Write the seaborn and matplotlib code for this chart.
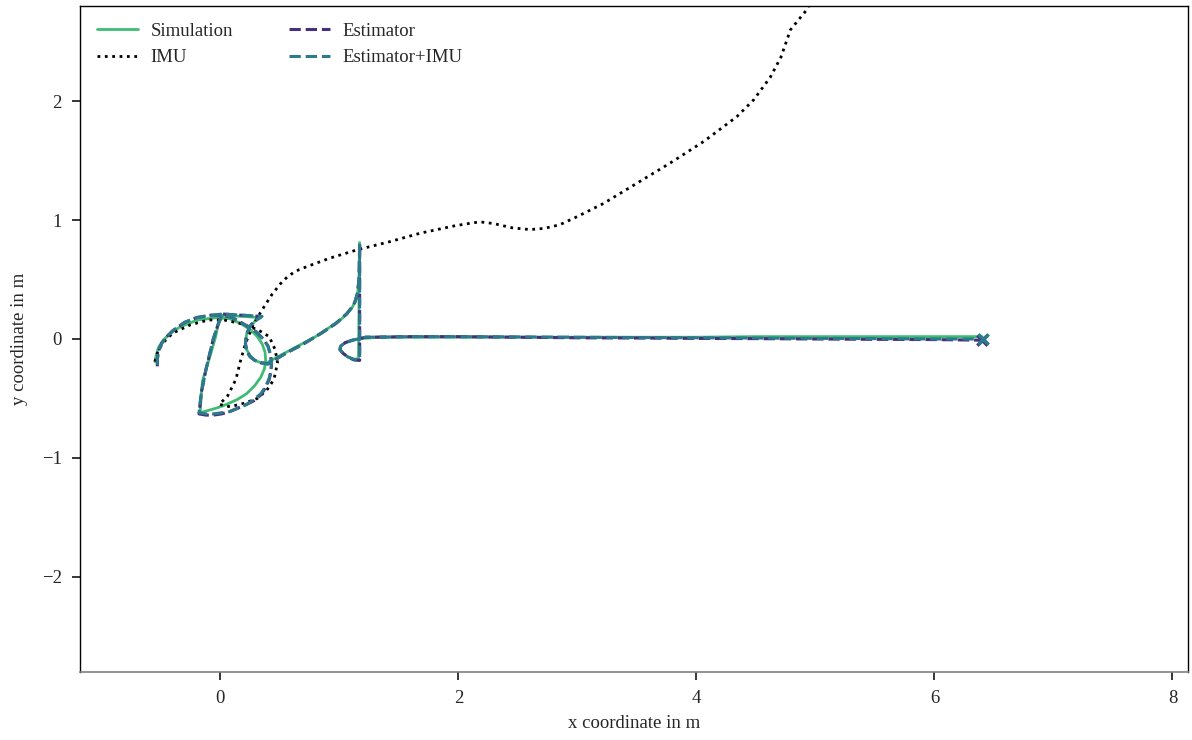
import numpy as np
import pandas as pd
import seaborn as sns
import matplotlib
matplotlib.use("Agg")
import matplotlib.pyplot as plt

# ==========================================
# DATA (metres)
# ==========================================
SIM_X = [-0.55, -0.54, -0.52, -0.48, -0.44, -0.39, -0.34, -0.27, -0.19, -0.11, -0.03,
         0.08, 0.17, 0.25, 0.31, 0.35, 0.375, 0.38, 0.37, 0.34, 0.29, 0.22, 0.14, 0.05, -0.03,
         -0.10, -0.17,
         -0.16, -0.15, -0.11, -0.08, -0.04, -0.02, 0.02,
         0.34, 0.29, 0.25, 0.22, 0.21, 0.22, 0.25, 0.29, 0.34, 0.39,
         0.50, 0.65, 0.80, 0.92, 1.02, 1.07, 1.11, 1.14, 1.155, 1.165, 1.17,
         1.16, 1.12, 1.07, 1.03, 1.005, 1.01, 1.05, 1.11, 1.20, 1.30,
         1.50, 2.00, 2.50, 3.00, 3.50, 4.00, 4.50, 5.00, 5.50, 6.00, 6.40]
SIM_Y = [-0.19, -0.14, -0.07, -0.01, 0.03, 0.07, 0.10, 0.13, 0.16, 0.17, 0.18,
         0.17, 0.13, 0.08, 0.02, -0.04, -0.11, -0.18, -0.25, -0.32, -0.39, -0.46, -0.51, -0.55,
         -0.58, -0.60, -0.62,
         -0.45, -0.35, -0.22, -0.12, 0.02, 0.12, 0.20,
         0.18, 0.15, 0.10, 0.04, -0.03, -0.09, -0.14, -0.18, -0.20, -0.20,
         -0.14, -0.06, 0.02, 0.10, 0.17, 0.22, 0.27, 0.33, 0.40, 0.50, 0.81,
         -0.18, -0.175, -0.15, -0.12, -0.09, -0.06, -0.03, -0.01, 0.005, 0.012,
         0.015, 0.015, 0.015, 0.015, 0.015, 0.015, 0.02, 0.02, 0.02, 0.02, 0.02]

IMU_X = [-0.55, -0.53, -0.49, -0.40, -0.25, -0.10, 0.03, 0.17, 0.31, 0.41, 0.46, 0.48, 0.45,
         0.39, 0.31, 0.20, 0.08, -0.01, 0.06, 0.13, 0.17, 0.21, 0.28, 0.36, 0.43, 0.50, 0.56,
         0.63, 0.73, 0.92, 1.15, 1.43, 1.68, 1.96, 2.08, 2.18, 2.30, 2.45, 2.60, 2.72, 2.85,
         3.00, 3.22, 3.50, 3.78, 4.06, 4.34, 4.48, 4.62, 4.71, 4.79, 4.92, 5.00]
IMU_Y = [-0.19, -0.12, -0.04, 0.05, 0.12, 0.16, 0.16, 0.13, 0.08, 0.02, -0.09, -0.20, -0.34,
         -0.43, -0.50, -0.54, -0.57, -0.55, -0.48, -0.34, -0.18, -0.04, 0.13, 0.26, 0.37, 0.46,
         0.52, 0.57, 0.61, 0.68, 0.75, 0.82, 0.89, 0.95, 0.97, 0.985, 0.97, 0.935, 0.92, 0.93,
         0.96, 1.03, 1.14, 1.31, 1.48, 1.66, 1.87, 2.01, 2.20, 2.37, 2.60, 2.76, 2.90]

EST_X = [-0.53, -0.53, -0.52, -0.49, -0.45, -0.40, -0.30, -0.20, -0.08, 0.02,
         0.10, 0.17, 0.24, 0.30, 0.36, 0.40, 0.42, 0.43, 0.425, 0.41, 0.38, 0.34, 0.28, 0.22,
         0.15, 0.08, 0.01, -0.06, -0.12, -0.18,
         -0.16, -0.12, -0.06, -0.01, 0.02,
         0.34, 0.29, 0.25, 0.22, 0.21, 0.22, 0.25, 0.29, 0.34, 0.40,
         0.55, 0.70, 0.85, 0.97, 1.06, 1.10, 1.13, 1.15, 1.165, 1.17,
         1.17, 1.12, 1.07, 1.03, 1.005, 1.01, 1.05, 1.11, 1.22,
         1.60, 2.00, 2.50, 3.00, 3.50, 4.00, 4.50, 5.00, 5.50, 6.00, 6.40]
EST_Y = [-0.23, -0.17, -0.10, -0.03, 0.02, 0.07, 0.14, 0.18, 0.20, 0.20,
         0.18, 0.14, 0.10, 0.06, 0.00, -0.06, -0.13, -0.20, -0.27, -0.34, -0.41, -0.47, -0.52,
         -0.55, -0.58, -0.61, -0.63, -0.64, -0.64, -0.63,
         -0.45, -0.25, 0.00, 0.15, 0.21,
         0.19, 0.16, 0.11, 0.04, -0.04, -0.10, -0.15, -0.18, -0.20, -0.21,
         -0.12, -0.04, 0.05, 0.13, 0.21, 0.26, 0.31, 0.38, 0.50, 0.81,
         -0.18, -0.175, -0.15, -0.12, -0.09, -0.06, -0.03, -0.01, 0.015,
         0.02, 0.02, 0.015, 0.01, 0.008, 0.005, 0.003, 0.0, -0.003, -0.005, -0.01]

ESTIMU_X = [-0.53, -0.53, -0.52, -0.49, -0.45, -0.40, -0.30, -0.20, -0.08, 0.02,
            0.10, 0.17, 0.24, 0.30, 0.36, 0.40, 0.42, 0.43, 0.425, 0.41, 0.38, 0.34, 0.28, 0.22,
            0.15, 0.08, 0.01, -0.06, -0.12, -0.18,
            -0.16, -0.12, -0.06, -0.01, 0.02,
            0.35, 0.30, 0.25, 0.22, 0.21, 0.22, 0.25, 0.29, 0.34, 0.40,
            0.55, 0.70, 0.85, 0.97, 1.06, 1.10, 1.13, 1.15, 1.165, 1.17,
            1.17, 1.12, 1.07, 1.03, 1.005, 1.01, 1.05, 1.11, 1.22,
            1.60, 2.00, 2.50, 3.00, 3.50, 4.00, 4.50, 5.00, 5.50, 6.00, 6.41]
ESTIMU_Y = [-0.22, -0.17, -0.10, -0.03, 0.02, 0.07, 0.14, 0.18, 0.20, 0.21,
            0.18, 0.14, 0.10, 0.06, 0.00, -0.06, -0.13, -0.20, -0.27, -0.33, -0.40, -0.46, -0.51,
            -0.55, -0.58, -0.61, -0.62, -0.63, -0.63, -0.62,
            -0.45, -0.25, 0.00, 0.15, 0.21,
            0.19, 0.16, 0.11, 0.04, -0.04, -0.10, -0.15, -0.18, -0.20, -0.21,
            -0.12, -0.04, 0.05, 0.13, 0.21, 0.26, 0.31, 0.38, 0.50, 0.80,
            -0.17, -0.17, -0.15, -0.12, -0.09, -0.06, -0.03, -0.01, 0.015,
            0.02, 0.02, 0.018, 0.015, 0.012, 0.01, 0.008, 0.005, 0.003, 0.0, 0.0]

SERIES = [
    ("Simulation", SIM_X, SIM_Y, "#3fbc73", "-"),
    ("IMU", IMU_X, IMU_Y, "black", ":"),
    ("Estimator", EST_X, EST_Y, "#46307e", "--"),
    ("Estimator+IMU", ESTIMU_X, ESTIMU_Y, "#2c7a8c", "--"),
]

FONT_SIZE = 13.5
OUTPUT_IMAGE = "out.png"


def make_plot():
    sns.set_theme(style="ticks")
    plt.rcParams["font.family"] = ["Liberation Serif", "DejaVu Serif"]
    plt.rcParams["font.size"] = FONT_SIZE
    plt.rcParams["axes.unicode_minus"] = True

    fig = plt.figure(figsize=(11.92, 7.4), dpi=100)
    ax = fig.add_axes([0.0671, 0.0919, 0.9295, 0.9000])

    for label, xs, ys, color, ls in SERIES:
        sns.lineplot(x=xs, y=ys, sort=False, estimator=None, ax=ax,
                     color=color, linestyle=ls,
                     linewidth=2.0 if ls != "--" else 2.2, label=label)

    # end markers for the two estimator runs
    for label, xs, ys, color, ls in SERIES[2:]:
        sns.scatterplot(x=[xs[-1]], y=[ys[-1]], marker="x", s=55, linewidth=2.5,
                        color=color, ax=ax, legend=False, zorder=5)

    ax.set_xlim(-1.18, 8.13)
    ax.set_ylim(-2.8, 2.8)
    ax.set_xticks([0, 2, 4, 6, 8])
    ax.set_yticks([-2, -1, 0, 1, 2])

    ax.set_xlabel("x coordinate in m", fontsize=FONT_SIZE, labelpad=6)
    ax.set_ylabel("y coordinate in m", fontsize=FONT_SIZE, labelpad=10)
    ax.tick_params(labelsize=FONT_SIZE, length=6, width=1.1, pad=7,
                   color="black", direction="out")

    for side in ["top", "right", "left"]:
        ax.spines[side].set_visible(True)
        ax.spines[side].set_color("black")
        ax.spines[side].set_linewidth(1.0)
    ax.spines["bottom"].set_color("0.5")
    ax.spines["bottom"].set_linewidth(1.2)

    ax.legend(loc="upper left", ncol=2, frameon=False, fontsize=FONT_SIZE,
              columnspacing=3.0, handlelength=2.2, handletextpad=0.65)

    fig.savefig(OUTPUT_IMAGE, dpi=100)


if __name__ == "__main__":
    make_plot()
